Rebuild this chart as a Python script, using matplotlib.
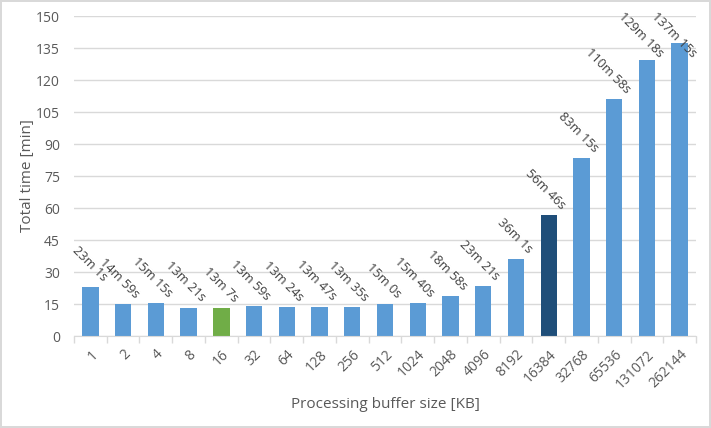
import numpy as np
import matplotlib.pyplot as plt

# buffer sizes in KB and measured total time (minutes + seconds)
buffer_sizes = ["1", "2", "4", "8", "16", "32", "64", "128", "256", "512", "1024",
                "2048", "4096", "8192", "16384", "32768", "65536", "131072", "262144"]
minutes = [23, 14, 15, 13, 13, 13, 13, 13, 13, 15, 15, 18, 23, 36, 56, 83, 110, 129, 137]
seconds = [1, 59, 15, 21, 7, 59, 24, 47, 35, 0, 40, 58, 21, 1, 46, 15, 58, 18, 15]
best_idx = 4       # green bar
highlight_idx = 14  # dark bar

total = [m + s / 60 for m, s in zip(minutes, seconds)]
labels = [f"{m}m {s}s" for m, s in zip(minutes, seconds)]

plt.rcParams['font.family'] = ['Open Sans', 'DejaVu Sans']
text_color = '#595959'

fig = plt.figure(figsize=(7.11, 4.28), dpi=100)
fig.patch.set_edgecolor('#D9D9D9')
fig.patch.set_linewidth(1.5)
ax = fig.add_axes([74 / 711, 1 - 336 / 428, 622 / 711, 320 / 428])

colors = ['#5B9BD5'] * len(total)
colors[best_idx] = '#70AD47'
colors[highlight_idx] = '#1F4E79'
x = np.arange(len(total))
ax.bar(x, total, width=0.5, color=colors, zorder=3)

# data labels, pushed down at the top so they stay inside the chart (like Excel)
for xi, v, lab in zip(x, total, labels):
    ax.text(xi + 0.3, min(v + 1.5, 129.5), lab, rotation=-45, rotation_mode='anchor',
            ha='right', va='bottom', fontsize=9.2, color='#404040', zorder=5)

ax.set_xlim(-0.5, len(total) - 0.5)
ax.set_ylim(0, 150)
ax.set_yticks(np.arange(0, 151, 15))
ax.yaxis.grid(True, color='#D9D9D9', linewidth=1, zorder=0)
ax.tick_params(axis='y', length=0, labelsize=10, colors=text_color, pad=10)

ax.set_xticks(x)
ax.set_xticklabels(buffer_sizes, rotation=45, ha='right', rotation_mode='anchor',
                   fontsize=10, color=text_color)
ax.tick_params(axis='x', length=0, pad=8)
ax.set_xticks(np.arange(-0.5, len(total), 1), minor=True)
ax.tick_params(axis='x', which='minor', length=5, color='#D9D9D9', width=1)

for side in ['top', 'right', 'left']:
    ax.spines[side].set_visible(False)
ax.spines['bottom'].set_color('#D9D9D9')
ax.spines['bottom'].set_zorder(4)

ax.set_xlabel('Processing buffer size [KB]', fontsize=11, color=text_color, labelpad=4)
ax.set_ylabel('Total time [min]', fontsize=11, color=text_color, labelpad=1)

fig.savefig('out.png', dpi=100)
